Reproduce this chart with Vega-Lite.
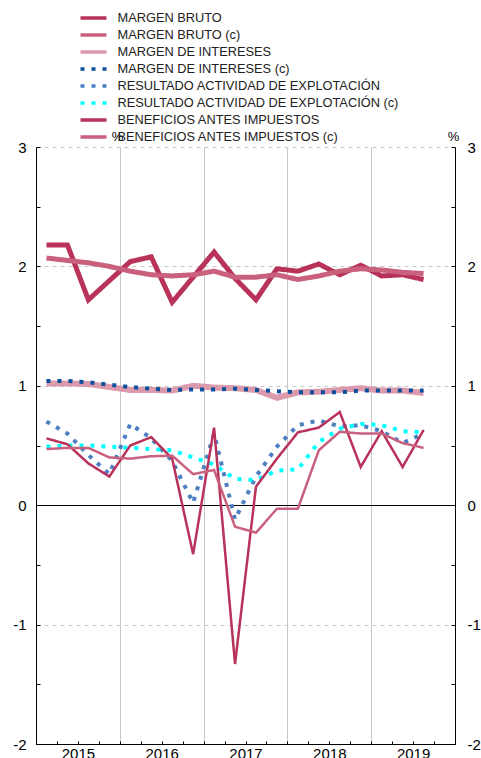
{
  "$schema": "https://vega.github.io/schema/vega-lite/v6.json",
  "width": 419,
  "height": 597,
  "autosize": {"type": "none"},
  "padding": {"left": 36, "top": 147, "right": 26, "bottom": 14},
  "background": "white",
  "config": {
    "font": "Liberation Sans",
    "view": {"stroke": null},
    "axis": {"labelFont": "Liberation Sans", "titleFont": "Liberation Sans", "labelColor": "#000", "domainColor": "#000", "tickColor": "#000", "titleColor": "#000"},
    "legend": {"symbolStrokeWidth": 3.5}
  },
  "data": {
    "values": [
      {"t": 2015.125, "MARGEN BRUTO": 2.18, "MARGEN BRUTO (c)": 2.07, "MARGEN DE INTERESES": 1.02, "MARGEN DE INTERESES (c)": 1.04, "RESULTADO ACTIVIDAD DE EXPLOTACIÓN": 0.70, "RESULTADO ACTIVIDAD DE EXPLOTACIÓN (c)": 0.49, "BENEFICIOS ANTES IMPUESTOS": 0.56, "BENEFICIOS ANTES IMPUESTOS (c)": 0.47},
      {"t": 2015.375, "MARGEN BRUTO": 2.18, "MARGEN BRUTO (c)": 2.05, "MARGEN DE INTERESES": 1.02, "MARGEN DE INTERESES (c)": 1.04, "RESULTADO ACTIVIDAD DE EXPLOTACIÓN": 0.60, "RESULTADO ACTIVIDAD DE EXPLOTACIÓN (c)": 0.50, "BENEFICIOS ANTES IMPUESTOS": 0.51, "BENEFICIOS ANTES IMPUESTOS (c)": 0.48},
      {"t": 2015.625, "MARGEN BRUTO": 1.72, "MARGEN BRUTO (c)": 2.03, "MARGEN DE INTERESES": 1.015, "MARGEN DE INTERESES (c)": 1.03, "RESULTADO ACTIVIDAD DE EXPLOTACIÓN": 0.42, "RESULTADO ACTIVIDAD DE EXPLOTACIÓN (c)": 0.50, "BENEFICIOS ANTES IMPUESTOS": 0.35, "BENEFICIOS ANTES IMPUESTOS (c)": 0.48},
      {"t": 2015.875, "MARGEN BRUTO": 1.88, "MARGEN BRUTO (c)": 2.00, "MARGEN DE INTERESES": 0.99, "MARGEN DE INTERESES (c)": 1.01, "RESULTADO ACTIVIDAD DE EXPLOTACIÓN": 0.26, "RESULTADO ACTIVIDAD DE EXPLOTACIÓN (c)": 0.49, "BENEFICIOS ANTES IMPUESTOS": 0.24, "BENEFICIOS ANTES IMPUESTOS (c)": 0.40},
      {"t": 2016.125, "MARGEN BRUTO": 2.04, "MARGEN BRUTO (c)": 1.96, "MARGEN DE INTERESES": 0.965, "MARGEN DE INTERESES (c)": 0.99, "RESULTADO ACTIVIDAD DE EXPLOTACIÓN": 0.68, "RESULTADO ACTIVIDAD DE EXPLOTACIÓN (c)": 0.48, "BENEFICIOS ANTES IMPUESTOS": 0.50, "BENEFICIOS ANTES IMPUESTOS (c)": 0.39},
      {"t": 2016.375, "MARGEN BRUTO": 2.08, "MARGEN BRUTO (c)": 1.93, "MARGEN DE INTERESES": 0.965, "MARGEN DE INTERESES (c)": 0.975, "RESULTADO ACTIVIDAD DE EXPLOTACIÓN": 0.56, "RESULTADO ACTIVIDAD DE EXPLOTACIÓN (c)": 0.47, "BENEFICIOS ANTES IMPUESTOS": 0.57, "BENEFICIOS ANTES IMPUESTOS (c)": 0.41},
      {"t": 2016.625, "MARGEN BRUTO": 1.70, "MARGEN BRUTO (c)": 1.92, "MARGEN DE INTERESES": 0.96, "MARGEN DE INTERESES (c)": 0.965, "RESULTADO ACTIVIDAD DE EXPLOTACIÓN": 0.37, "RESULTADO ACTIVIDAD DE EXPLOTACIÓN (c)": 0.46, "BENEFICIOS ANTES IMPUESTOS": 0.39, "BENEFICIOS ANTES IMPUESTOS (c)": 0.415},
      {"t": 2016.875, "MARGEN BRUTO": 1.91, "MARGEN BRUTO (c)": 1.93, "MARGEN DE INTERESES": 1.00, "MARGEN DE INTERESES (c)": 0.97, "RESULTADO ACTIVIDAD DE EXPLOTACIÓN": 0.02, "RESULTADO ACTIVIDAD DE EXPLOTACIÓN (c)": 0.40, "BENEFICIOS ANTES IMPUESTOS": -0.41, "BENEFICIOS ANTES IMPUESTOS (c)": 0.26},
      {"t": 2017.125, "MARGEN BRUTO": 2.12, "MARGEN BRUTO (c)": 1.96, "MARGEN DE INTERESES": 0.985, "MARGEN DE INTERESES (c)": 0.97, "RESULTADO ACTIVIDAD DE EXPLOTACIÓN": 0.60, "RESULTADO ACTIVIDAD DE EXPLOTACIÓN (c)": 0.34, "BENEFICIOS ANTES IMPUESTOS": 0.65, "BENEFICIOS ANTES IMPUESTOS (c)": 0.295},
      {"t": 2017.375, "MARGEN BRUTO": 1.90, "MARGEN BRUTO (c)": 1.91, "MARGEN DE INTERESES": 0.98, "MARGEN DE INTERESES (c)": 0.975, "RESULTADO ACTIVIDAD DE EXPLOTACIÓN": -0.12, "RESULTADO ACTIVIDAD DE EXPLOTACIÓN (c)": 0.22, "BENEFICIOS ANTES IMPUESTOS": -1.33, "BENEFICIOS ANTES IMPUESTOS (c)": -0.18},
      {"t": 2017.625, "MARGEN BRUTO": 1.72, "MARGEN BRUTO (c)": 1.91, "MARGEN DE INTERESES": 0.965, "MARGEN DE INTERESES (c)": 0.965, "RESULTADO ACTIVIDAD DE EXPLOTACIÓN": 0.24, "RESULTADO ACTIVIDAD DE EXPLOTACIÓN (c)": 0.21, "BENEFICIOS ANTES IMPUESTOS": 0.155, "BENEFICIOS ANTES IMPUESTOS (c)": -0.23},
      {"t": 2017.875, "MARGEN BRUTO": 1.98, "MARGEN BRUTO (c)": 1.93, "MARGEN DE INTERESES": 0.90, "MARGEN DE INTERESES (c)": 0.955, "RESULTADO ACTIVIDAD DE EXPLOTACIÓN": 0.49, "RESULTADO ACTIVIDAD DE EXPLOTACIÓN (c)": 0.29, "BENEFICIOS ANTES IMPUESTOS": 0.39, "BENEFICIOS ANTES IMPUESTOS (c)": -0.03},
      {"t": 2018.125, "MARGEN BRUTO": 1.96, "MARGEN BRUTO (c)": 1.89, "MARGEN DE INTERESES": 0.945, "MARGEN DE INTERESES (c)": 0.945, "RESULTADO ACTIVIDAD DE EXPLOTACIÓN": 0.67, "RESULTADO ACTIVIDAD DE EXPLOTACIÓN (c)": 0.30, "BENEFICIOS ANTES IMPUESTOS": 0.61, "BENEFICIOS ANTES IMPUESTOS (c)": -0.03},
      {"t": 2018.375, "MARGEN BRUTO": 2.02, "MARGEN BRUTO (c)": 1.92, "MARGEN DE INTERESES": 0.95, "MARGEN DE INTERESES (c)": 0.945, "RESULTADO ACTIVIDAD DE EXPLOTACIÓN": 0.71, "RESULTADO ACTIVIDAD DE EXPLOTACIÓN (c)": 0.53, "BENEFICIOS ANTES IMPUESTOS": 0.65, "BENEFICIOS ANTES IMPUESTOS (c)": 0.46},
      {"t": 2018.625, "MARGEN BRUTO": 1.93, "MARGEN BRUTO (c)": 1.96, "MARGEN DE INTERESES": 0.965, "MARGEN DE INTERESES (c)": 0.945, "RESULTADO ACTIVIDAD DE EXPLOTACIÓN": 0.66, "RESULTADO ACTIVIDAD DE EXPLOTACIÓN (c)": 0.64, "BENEFICIOS ANTES IMPUESTOS": 0.78, "BENEFICIOS ANTES IMPUESTOS (c)": 0.615},
      {"t": 2018.875, "MARGEN BRUTO": 2.01, "MARGEN BRUTO (c)": 1.98, "MARGEN DE INTERESES": 0.98, "MARGEN DE INTERESES (c)": 0.96, "RESULTADO ACTIVIDAD DE EXPLOTACIÓN": 0.67, "RESULTADO ACTIVIDAD DE EXPLOTACIÓN (c)": 0.68, "BENEFICIOS ANTES IMPUESTOS": 0.32, "BENEFICIOS ANTES IMPUESTOS (c)": 0.60},
      {"t": 2019.125, "MARGEN BRUTO": 1.92, "MARGEN BRUTO (c)": 1.97, "MARGEN DE INTERESES": 0.96, "MARGEN DE INTERESES (c)": 0.96, "RESULTADO ACTIVIDAD DE EXPLOTACIÓN": 0.62, "RESULTADO ACTIVIDAD DE EXPLOTACIÓN (c)": 0.67, "BENEFICIOS ANTES IMPUESTOS": 0.62, "BENEFICIOS ANTES IMPUESTOS (c)": 0.60},
      {"t": 2019.375, "MARGEN BRUTO": 1.93, "MARGEN BRUTO (c)": 1.95, "MARGEN DE INTERESES": 0.96, "MARGEN DE INTERESES (c)": 0.96, "RESULTADO ACTIVIDAD DE EXPLOTACIÓN": 0.52, "RESULTADO ACTIVIDAD DE EXPLOTACIÓN (c)": 0.62, "BENEFICIOS ANTES IMPUESTOS": 0.32, "BENEFICIOS ANTES IMPUESTOS (c)": 0.52},
      {"t": 2019.625, "MARGEN BRUTO": 1.89, "MARGEN BRUTO (c)": 1.94, "MARGEN DE INTERESES": 0.94, "MARGEN DE INTERESES (c)": 0.96, "RESULTADO ACTIVIDAD DE EXPLOTACIÓN": 0.60, "RESULTADO ACTIVIDAD DE EXPLOTACIÓN (c)": 0.61, "BENEFICIOS ANTES IMPUESTOS": 0.63, "BENEFICIOS ANTES IMPUESTOS (c)": 0.48}
    ]
  },
  "layer": [
    {
      "transform": [
        {"fold": ["MARGEN BRUTO", "MARGEN BRUTO (c)", "MARGEN DE INTERESES", "MARGEN DE INTERESES (c)", "RESULTADO ACTIVIDAD DE EXPLOTACIÓN", "RESULTADO ACTIVIDAD DE EXPLOTACIÓN (c)", "BENEFICIOS ANTES IMPUESTOS", "BENEFICIOS ANTES IMPUESTOS (c)"], "as": ["serie", "v"]}
      ],
      "encoding": {
        "x": {
          "field": "t", "type": "quantitative",
          "scale": {"domain": [2015, 2020], "nice": false, "zero": false},
          "axis": {
            "orient": "bottom",
            "values": [2015, 2015.25, 2015.5, 2015.75, 2016, 2016.25, 2016.5, 2016.75, 2017, 2017.25, 2017.5, 2017.75, 2018, 2018.25, 2018.5, 2018.75, 2019, 2019.25, 2019.5, 2019.75, 2020],
            "labelExpr": "datum.value % 1 === 0.5 ? '' + floor(datum.value) : ''",
            "grid": true,
            "gridColor": "#c8c8c8",
            "gridOpacity": {"condition": {"test": "datum.value % 1 !== 0 || datum.value === 2015 || datum.value === 2020", "value": 0}, "value": 1},
            "tickSize": -3,
            "labelFontSize": 15,
            "labelPadding": 5,
            "labelOverlap": false,
            "labelFlush": false,
            "labelBound": false,
            "title": null
          }
        },
        "y": {
          "field": "v", "type": "quantitative",
          "scale": {"domain": [-2, 3], "nice": false, "zero": false},
          "axis": {
            "orient": "left",
            "values": [-2, -1.5, -1, -0.5, 0, 0.5, 1, 1.5, 2, 2.5, 3],
            "labelExpr": "datum.value % 1 === 0 ? '' + datum.value : ''",
            "grid": true,
            "gridColor": {"condition": {"test": "datum.value === 0", "value": "#000000"}, "value": "#c8c8c8"},
            "gridDash": {"condition": {"test": "datum.value === 0", "value": []}, "value": [4, 4]},
            "gridOpacity": {"condition": {"test": "datum.value % 1 !== 0", "value": 0}, "value": 1},
            "tickSize": -4,
            "labelFontSize": 15,
            "labelPadding": 14,
            "labelOverlap": false,
            "labelFlush": false,
            "labelBound": false,
            "title": "%",
            "titleAngle": 0,
            "titleX": 81,
            "titleY": -11,
            "titleAlign": "center",
            "titleBaseline": "middle",
            "titleFontSize": 13,
            "titleFontWeight": "normal"
          }
        },
        "color": {
          "field": "serie", "type": "nominal",
          "scale": {
            "domain": ["MARGEN BRUTO", "MARGEN BRUTO (c)", "MARGEN DE INTERESES", "MARGEN DE INTERESES (c)", "RESULTADO ACTIVIDAD DE EXPLOTACIÓN", "RESULTADO ACTIVIDAD DE EXPLOTACIÓN (c)", "BENEFICIOS ANTES IMPUESTOS", "BENEFICIOS ANTES IMPUESTOS (c)"],
            "range": ["#b8325a", "#c9607e", "#dc9aad", "#0b4f9f", "#4b7fc1", "#00ffff", "#b8325a", "#c9607e"]
          },
          "legend": {
            "orient": "none",
            "legendX": 49,
            "legendY": -137.5,
            "direction": "vertical",
            "columns": 1,
            "title": null,
            "padding": 0,
            "symbolType": "M-2,0H2",
            "symbolSize": 169,
            "symbolStrokeWidth": 3.5,
            "labelFontSize": 12.8,
            "labelFont": "Liberation Sans",
            "labelColor": "#222222",
            "labelOffset": 15.5,
            "labelLimit": 400,
            "rowPadding": 1
          }
        },
        "strokeDash": {
          "field": "serie", "type": "nominal",
          "scale": {
            "domain": ["MARGEN BRUTO", "MARGEN BRUTO (c)", "MARGEN DE INTERESES", "MARGEN DE INTERESES (c)", "RESULTADO ACTIVIDAD DE EXPLOTACIÓN", "RESULTADO ACTIVIDAD DE EXPLOTACIÓN (c)", "BENEFICIOS ANTES IMPUESTOS", "BENEFICIOS ANTES IMPUESTOS (c)"],
            "range": [[1, 0], [1, 0], [1, 0], [4, 7], [4, 7], [4, 7], [1, 0], [1, 0]]
          }
        }
      },
      "layer": [
        {
          "transform": [{"filter": {"field": "serie", "oneOf": ["MARGEN BRUTO", "MARGEN BRUTO (c)"]}}],
          "mark": {"type": "line", "clip": false, "strokeWidth": 5}
        },
        {
          "transform": [{"filter": {"field": "serie", "oneOf": ["MARGEN DE INTERESES"]}}],
          "mark": {"type": "line", "clip": false, "strokeWidth": 6}
        },
        {
          "transform": [{"filter": {"field": "serie", "oneOf": ["MARGEN DE INTERESES (c)", "RESULTADO ACTIVIDAD DE EXPLOTACIÓN", "RESULTADO ACTIVIDAD DE EXPLOTACIÓN (c)"]}}],
          "mark": {"type": "line", "clip": false, "strokeWidth": 4}
        },
        {
          "transform": [{"filter": {"field": "serie", "oneOf": ["BENEFICIOS ANTES IMPUESTOS", "BENEFICIOS ANTES IMPUESTOS (c)"]}}],
          "mark": {"type": "line", "clip": false, "strokeWidth": 2.5}
        }
      ]
    },
    {
      "mark": {"type": "rule", "opacity": 0},
      "encoding": {
        "y": {
          "datum": 0, "type": "quantitative",
          "axis": {
            "orient": "right",
            "values": [-2, -1.5, -1, -0.5, 0, 0.5, 1, 1.5, 2, 2.5, 3],
            "labelExpr": "datum.value % 1 === 0 ? '' + datum.value : ''",
            "grid": false,
            "tickSize": -4,
            "labelFontSize": 15,
            "labelPadding": 16,
            "labelOverlap": false,
            "labelFlush": false,
            "labelBound": false,
            "title": "%",
            "titleAngle": 0,
            "titleX": -2,
            "titleY": -11,
            "titleAlign": "center",
            "titleBaseline": "middle",
            "titleFontSize": 13,
            "titleFontWeight": "normal"
          }
        }
      }
    }
  ],
  "resolve": {"axis": {"y": "independent"}}
}
